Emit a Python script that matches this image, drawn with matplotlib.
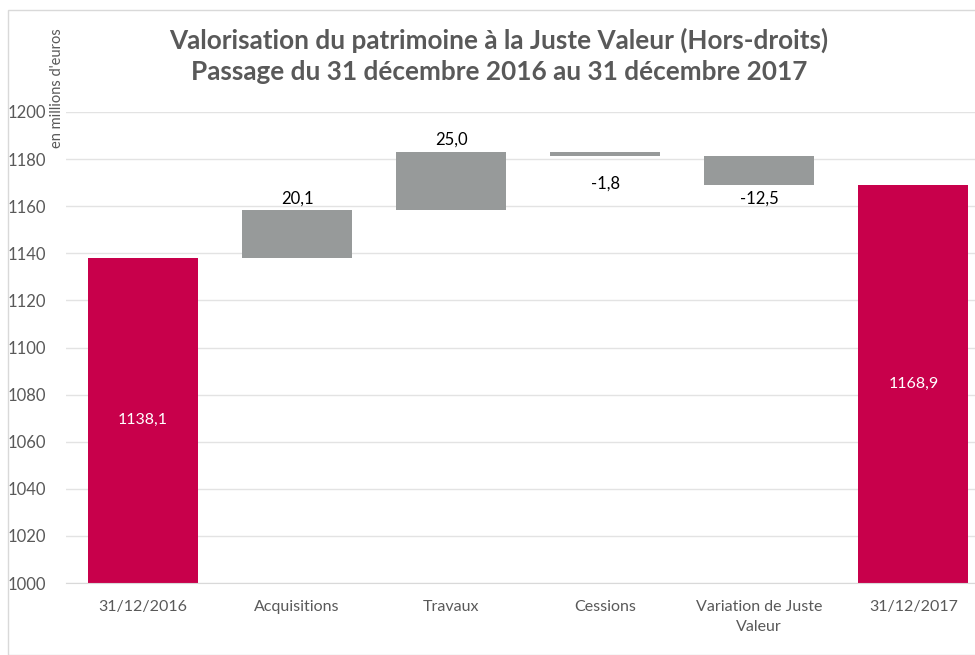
import matplotlib.pyplot as plt
from matplotlib.patches import Rectangle

# Waterfall data (millions d'euros)
categories = ["31/12/2016", "Acquisitions", "Travaux", "Cessions", "Variation de Juste\nValeur", "31/12/2017"]
start_value = 1138.1
changes = [20.1, 25.0, -1.8, -12.5]
end_value = 1168.9
labels = ["1138,1", "20,1", "25,0", "-1,8", "-12,5", "1168,9"]

red = "#C8004B"
grey = "#979A9A"
text_grey = "#595959"

plt.rcParams["font.family"] = ["Lato", "DejaVu Sans"]

fig = plt.figure(figsize=(9.75, 6.55), dpi=100)
ax = fig.add_axes([66 / 975, 1 - 583 / 655, (975 - 66) / 975, 471 / 655])

# compute bottoms / heights of floating bars
bottoms = [1000]
heights = [start_value - 1000]
level = start_value
for c in changes:
    if c >= 0:
        bottoms.append(level)
        heights.append(c)
    else:
        bottoms.append(level + c)
        heights.append(-c)
    level += c
bottoms.append(1000)
heights.append(end_value - 1000)

colors = [red] + [grey] * len(changes) + [red]
x = list(range(len(categories)))
ax.bar(x, heights, bottom=bottoms, width=0.715, color=colors, zorder=3)

# value labels (offsets below negative bars as in the Excel original)
neg_offsets = {3: 12, 4: 5.5}
for i in x:
    if i == 0 or i == len(x) - 1:
        ax.text(i, bottoms[i] + heights[i] / 2, labels[i], ha="center", va="center",
                color="white", fontsize=11.5)
    elif changes[i - 1] >= 0:
        ax.text(i, bottoms[i] + heights[i] + 1.5, labels[i], ha="center", va="bottom",
                color="black", fontsize=12)
    else:
        ax.text(i, bottoms[i] - neg_offsets[i], labels[i], ha="center", va="center",
                color="black", fontsize=12)

ax.set_ylim(1000, 1200)
ax.set_yticks(range(1000, 1201, 20))
ax.set_xlim(-0.5, 5.40)
ax.set_xticks(x)
ax.set_xticklabels(categories, fontsize=11.5, color=text_grey, linespacing=1.55)
ax.tick_params(axis="y", labelsize=12, labelcolor=text_grey, length=0, pad=14)
ax.tick_params(axis="x", length=0, pad=12)
ax.grid(axis="y", color="#E3E3E3", linewidth=1, zorder=0)
for s in ["top", "right", "left"]:
    ax.spines[s].set_visible(False)
ax.spines["bottom"].set_color("#D9D9D9")
ax.spines["bottom"].set_zorder(4)

fig.text(499 / 975, 1 - 40 / 655, "Valorisation du patrimoine à la Juste Valeur (Hors-droits)",
         ha="center", va="center", fontsize=18.8, fontweight="bold", color=text_grey)
fig.text(499 / 975, 1 - 72 / 655, "Passage du 31 décembre 2016 au 31 décembre 2017",
         ha="center", va="center", fontsize=18.8, fontweight="bold", color=text_grey)
fig.text(57 / 975, 1 - 88 / 655, "en millions d'euros", rotation=90, ha="center", va="center",
         fontsize=10.5, color=text_grey)

# light outer frame like the original export
fig.patches.append(Rectangle((8 / 975, 0), 1, 1 - 10 / 655, transform=fig.transFigure,
                             fill=False, edgecolor="#D9D9D9", linewidth=1))

fig.savefig("out.png", dpi=100)
